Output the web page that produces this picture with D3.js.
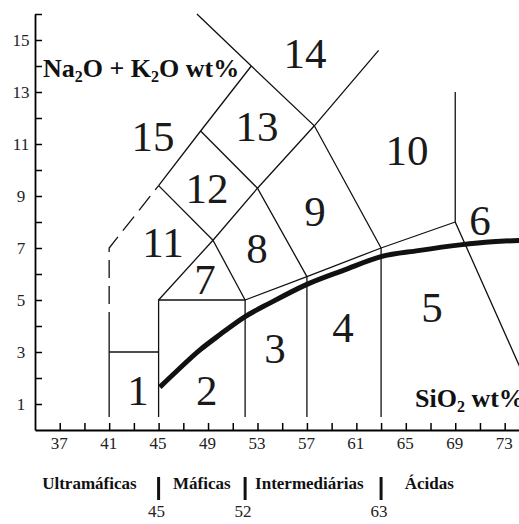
<!DOCTYPE html>
<html>
<head>
<meta charset="utf-8">
<script src="https://cdn.jsdelivr.net/npm/d3@7"></script>
<style>
  body { margin: 0; background: #fff; }
  svg { display: block; font-family: "Liberation Serif", "Times New Roman", serif; }
</style>
</head>
<body>
<svg id="chart"></svg>
<script>
// boundary lines of the TAS fields (SiO2, Na2O+K2O)
const solidLines = [
  [[41, 0.5], [41, 3.85]],
  [[41, 3], [45, 3]],
  [[45, 0.5], [45, 5], [52, 5], [52, 0.5]],
  [[45, 5], [49.4, 7.3], [53, 9.3], [57.6, 11.7], [62.8, 14.6]],
  [[52, 5], [57, 5.9], [63, 7], [69, 8]],
  [[57, 0.5], [57, 5.9]],
  [[63, 0.5], [63, 7]],
  [[49.4, 7.3], [52, 5]],
  [[45, 9.4], [48.4, 11.5], [52.5, 14]],
  [[45, 9.4], [49.4, 7.3]],
  [[48.4, 11.5], [53, 9.3], [57, 5.9]],
  [[48.1, 16], [52.5, 14], [57.6, 11.7], [63, 7]],
  [[69, 13], [69, 8], [76.5, 0]]
];
const dashedLines = [
  [[41, 3.85], [41, 7], [45, 9.4]]
];

// alkaline / subalkaline divide
const curveSiO2 = [45.1, 46.5, 48.35, 50, 52, 54, 57, 60, 63, 66, 69.4, 72, 75];
const curveAlk = [1.65, 2.28, 3.08, 3.68, 4.36, 4.88, 5.6, 6.15, 6.67, 6.9, 7.12, 7.24, 7.3];

// field numbers
const fieldIds = ["1", "2", "3", "4", "5", "6", "7", "8", "9", "10", "11", "12", "13", "14", "15"];
const fieldSiO2 = [43.33, 48.9, 54.42, 59.92, 67.12, 71.0, 48.75, 52.96, 57.65, 65.1, 45.36, 48.92, 52.96, 56.84, 44.55];
const fieldAlk = [1.54, 1.54, 3.15, 3.96, 4.73, 8.08, 5.81, 7.0, 8.42, 10.77, 7.23, 9.31, 11.69, 14.5, 11.31];

// ticks
const yTicks = d3.range(1, 17);
const xTicks = d3.range(37, 76, 2);

// rock classes under the axis
const classNames = ["Ultramáficas", "Máficas", "Intermediárias", "Ácidas"];
const classCenters = [39.4, 48.5, 57.2, 66.9];
const classLimits = [45, 52, 63];

const width = 519, height = 524;
const svg = d3.select("#chart").attr("width", width).attr("height", height);

const x = d3.scaleLinear().domain([35, 75]).range([35, 529.4]);
const y = d3.scaleLinear().domain([0, 16]).range([430, 14]);

const line = d3.line().x(d => x(d[0])).y(d => y(d[1]));

// y axis
const yAxis = svg.append("g")
  .attr("transform", `translate(${x(35)},0)`)
  .call(d3.axisLeft(y).tickValues(yTicks).tickSizeInner(-7).tickSizeOuter(0)
    .tickFormat(d => d % 2 ? d : ""));
yAxis.select(".domain").attr("stroke-width", 1.8);
yAxis.selectAll(".tick line").attr("stroke-width", 1.5);
yAxis.selectAll("text")
  .attr("x", -14).attr("text-anchor", "middle")
  .attr("font-size", 17).attr("font-family", "Liberation Serif").attr("fill", "#222");

// x axis
const xAxis = svg.append("g")
  .attr("transform", `translate(0,${y(0)})`)
  .call(d3.axisBottom(x).tickValues(xTicks).tickSizeInner(-7).tickSizeOuter(0)
    .tickFormat(d => (d - 37) % 4 === 0 ? d : ""));
xAxis.select(".domain").attr("stroke-width", 1.8);
xAxis.selectAll(".tick line").attr("stroke-width", 1.5);
xAxis.selectAll("text")
  .attr("y", 7).attr("x", -1)
  .attr("font-size", 17).attr("font-family", "Liberation Serif").attr("fill", "#222");

// field boundaries
svg.append("g").selectAll("path")
  .data(solidLines)
  .enter().append("path")
  .attr("d", line)
  .attr("fill", "none")
  .attr("stroke", "#111")
  .attr("stroke-width", 1.3);

svg.append("g").selectAll("path")
  .data(dashedLines)
  .enter().append("path")
  .attr("d", line)
  .attr("fill", "none")
  .attr("stroke", "#111")
  .attr("stroke-width", 1.3)
  .attr("stroke-dasharray", "18,8");

// thick divide curve
const curvePts = curveSiO2.map((s, i) => [s, curveAlk[i]]);
svg.append("path")
  .attr("d", d3.line().x(d => x(d[0])).y(d => y(d[1])).curve(d3.curveMonotoneX)(curvePts))
  .attr("fill", "none")
  .attr("stroke", "#111")
  .attr("stroke-width", 5);

// field numbers
svg.append("g").selectAll("text")
  .data(fieldIds)
  .enter().append("text")
  .attr("x", (d, i) => x(fieldSiO2[i]))
  .attr("y", (d, i) => y(fieldAlk[i]))
  .attr("dy", "0.35em")
  .attr("text-anchor", "middle")
  .attr("font-size", 43)
  .attr("fill", "#1a1a1a")
  .text(d => d);

// axis titles
const yTitle = svg.append("text")
  .attr("x", 43).attr("y", 77)
  .attr("font-size", 26).attr("font-weight", "bold").attr("fill", "#111");
yTitle.append("tspan").text("Na");
yTitle.append("tspan").attr("font-size", 16).attr("dy", 5).text("2");
yTitle.append("tspan").attr("dy", -5).text("O + K");
yTitle.append("tspan").attr("font-size", 16).attr("dy", 5).text("2");
yTitle.append("tspan").attr("dy", -5).text("O wt%");

const xTitle = svg.append("text")
  .attr("x", 415).attr("y", 407)
  .attr("font-size", 26).attr("font-weight", "bold").attr("fill", "#111");
xTitle.append("tspan").text("SiO");
xTitle.append("tspan").attr("font-size", 16).attr("dy", 5).text("2");
xTitle.append("tspan").attr("dy", -5).text(" wt%");

// rock classes
svg.append("g").selectAll("text")
  .data(classNames)
  .enter().append("text")
  .attr("x", (d, i) => x(classCenters[i]))
  .attr("y", 489)
  .attr("text-anchor", "middle")
  .attr("font-size", 17)
  .attr("font-weight", "bold")
  .attr("fill", "#111")
  .text(d => d);

svg.append("g").selectAll("rect")
  .data(classLimits)
  .enter().append("rect")
  .attr("x", d => x(d) - 1.5)
  .attr("y", 477)
  .attr("width", 3)
  .attr("height", 23)
  .attr("fill", "#111");

svg.append("g").selectAll("text")
  .data(classLimits)
  .enter().append("text")
  .attr("x", d => x(d) - 2)
  .attr("y", 517)
  .attr("text-anchor", "middle")
  .attr("font-size", 17)
  .attr("fill", "#222")
  .text(d => d);
</script>
</body>
</html>
